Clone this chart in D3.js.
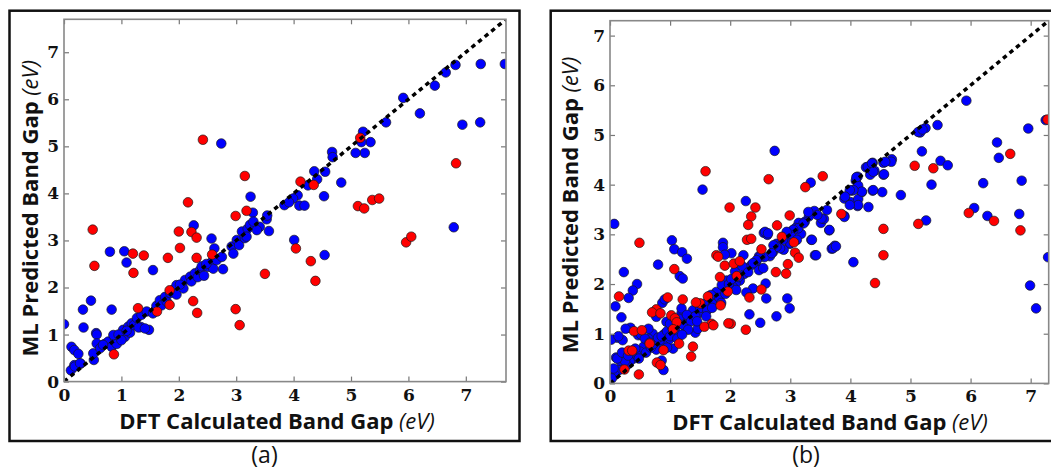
<!DOCTYPE html>
<html><head><meta charset="utf-8">
<script src="https://cdn.jsdelivr.net/npm/d3@7"></script>
<style>body{margin:0;background:#fff}</style>
</head><body>
<svg id="c" width="1051" height="469"></svg>
<script>
const tickValues = [0,1,2,3,4,5,6,7];
const xTitleMain = "DFT Calculated Band Gap ";
const yTitleMain = "ML Predicted Band Gap ";
const unitText = "(eV)";
const panelLabels = ["(a)", "(b)"];

const panelARed = [[2.42,5.14],[3.15,4.37],[2.16,3.81],[0.50,3.23],[0.53,2.46],[2.00,3.19],[2.02,2.84],[2.22,3.18],[2.31,3.06],[2.31,2.63],[1.81,2.63],[1.20,2.72],[1.39,2.68],[1.21,2.31],[2.99,3.52],[3.18,3.63],[2.58,2.70],[1.84,1.94],[1.84,1.63],[2.25,1.71],[2.32,1.46],[1.62,1.49],[1.29,1.56],[0.87,0.58],[2.99,1.54],[3.06,1.20],[3.50,2.29],[4.04,2.83],[4.12,4.25],[4.35,4.18],[4.30,2.56],[4.38,2.14],[5.16,5.18],[5.12,3.73],[5.23,3.68],[5.37,3.86],[5.49,3.89],[5.96,2.96],[6.05,3.08],[6.83,4.64]];

const panelABlue = [[0.0,1.22],[2.74,5.06],[0.80,2.76],[1.05,2.77],[1.09,2.53],[1.55,2.37],[2.26,3.32],[2.57,3.04],[2.62,2.83],[2.77,2.39],[3.25,3.93],[3.29,3.59],[0.47,1.72],[0.33,1.53],[0.83,1.53],[0.34,1.15],[0.56,1.03],[0.52,0.46],[0.13,0.74],[0.18,0.67],[0.25,0.59],[0.12,0.24],[0.18,0.35],[0.29,0.38],[1.34,1.16],[1.48,1.10],[3.57,3.20],[3.53,3.45],[3.54,3.53],[4.01,3.01],[4.54,2.69],[4.53,3.94],[4.83,4.23],[5.24,4.86],[5.34,5.09],[5.18,5.09],[5.21,5.31],[4.67,4.88],[4.68,4.77],[4.55,4.46],[4.36,4.47],[4.41,4.30],[4.25,4.17],[4.10,3.74],[4.19,3.74],[4.07,3.96],[3.99,3.89],[3.84,3.75],[3.92,3.81],[5.61,5.51],[5.91,6.03],[6.20,5.70],[6.46,6.29],[6.65,6.57],[6.82,6.73],[7.26,6.75],[7.68,6.75],[6.94,5.46],[7.25,5.51],[6.79,3.28],[5.08,4.86],
[0.19,0.32],[0.28,0.39],[0.51,0.60],[0.57,1.00],[0.57,0.81],[0.63,0.71],[0.71,0.80],[0.77,0.85],[0.83,0.74],[0.89,0.92],[0.92,0.80],[0.98,0.95],[1.03,1.10],[1.06,0.95],[1.12,1.17],[1.15,1.04],[1.18,1.24],[1.22,1.20],[1.27,1.35],[1.30,1.15],[1.35,1.42],[1.41,1.13],[1.44,1.49],[1.58,1.50],[1.61,1.61],[1.67,1.73],[1.70,1.62],[1.76,1.80],[1.79,1.70],[1.85,1.88],[1.90,1.95],[1.96,2.05],[1.96,1.85],[2.08,1.98],[2.11,2.16],[2.20,2.23],[2.22,2.13],[2.28,2.30],[2.33,2.22],[2.37,2.37],[2.40,2.45],[2.44,2.25],[2.51,2.44],[2.57,2.54],[2.60,2.40],[2.66,2.58],[2.75,2.65],[2.92,2.87],[2.95,2.72],[3.01,3.01],[3.05,2.90],[3.10,3.19],[3.15,3.05],[3.20,3.25],[3.24,3.33],[3.30,3.40],[3.41,3.29],[3.36,3.22],[0.86,0.99],[0.95,1.00],[1.00,0.88],[1.09,1.08],[0.68,0.78],[1.55,1.45],[2.02,2.06],[2.48,2.50],[3.18,3.08]];

const panelBRed = [[1.59,4.27],[2.64,4.11],[1.99,3.54],[2.42,3.54],[2.35,3.36],[2.30,3.19],[2.28,2.89],[2.35,2.91],[2.78,3.18],[2.99,3.38],[2.86,2.95],[3.06,2.84],[3.08,2.63],[3.14,2.53],[2.96,2.40],[2.93,2.21],[2.76,2.24],[2.52,2.70],[1.77,2.58],[1.91,2.37],[2.06,2.41],[2.16,2.46],[2.11,2.16],[1.83,2.14],[1.96,1.85],[2.52,1.89],[2.32,1.73],[1.84,1.57],[1.63,1.75],[1.50,1.61],[1.43,1.63],[1.69,1.20],[1.57,1.14],[2.01,1.20],[2.26,1.08],[1.21,1.69],[1.07,2.30],[0.96,1.73],[0.77,1.49],[0.70,1.43],[0.84,1.41],[1.02,1.37],[1.08,1.31],[1.11,1.23],[1.05,1.09],[1.15,0.80],[1.38,0.74],[1.35,0.54],[0.66,0.80],[0.89,0.67],[0.78,0.42],[0.84,0.37],[0.48,0.18],[0.24,0.28],[0.31,0.66],[0.37,0.66],[0.40,1.05],[0.53,1.07],[0.49,2.83],[0.15,1.75],[3.25,3.95],[3.54,4.17],[3.85,3.41],[4.55,3.11],[4.55,2.58],[4.41,2.02],[5.07,4.38],[5.38,4.33],[5.13,3.21],[5.97,3.43],[6.39,3.27],[6.66,4.62],[6.83,3.08],[7.28,5.31],[1.80,2.55],[1.97,1.21],[1.72,1.17]];

const panelBBlue = [[0.07,3.21],[2.74,4.68],[1.54,3.90],[2.26,3.67],[3.34,4.04],[2.56,3.03],[2.62,2.99],[1.88,2.83],[1.88,2.74],[2.02,2.62],[1.91,2.59],[1.03,2.88],[1.07,2.70],[1.20,2.64],[1.28,2.51],[1.16,2.16],[1.21,2.11],[0.80,2.39],[0.23,2.24],[0.45,2.00],[0.38,1.87],[0.31,1.72],[0.09,1.55],[0.19,1.33],[0.34,1.12],[0.87,1.62],[0.91,1.69],[0.12,0.92],[0.21,0.87],[0.02,0.88],[0.10,0.52],[0.18,0.44],[0.89,0.27],[0.86,0.46],[3.41,2.58],[3.35,2.89],[3.51,3.23],[3.65,3.08],[3.69,2.71],[3.74,2.77],[3.90,3.37],[4.05,2.44],[4.30,3.55],[4.37,3.88],[4.53,3.85],[4.55,4.20],[4.84,3.79],[5.26,3.28],[5.35,4.00],[5.19,4.67],[5.16,5.05],[5.25,5.14],[5.45,5.20],[5.50,4.48],[5.62,4.39],[5.93,5.69],[6.06,3.53],[6.21,4.03],[6.44,4.85],[6.47,4.54],[6.81,3.41],[6.85,4.08],[6.96,5.13],[6.99,1.97],[7.09,1.51],[7.29,2.54],[7.25,5.30],[2.77,1.35],[2.99,1.51],[2.95,1.71],[2.60,1.71],[2.32,1.39],[2.50,1.22],[2.59,2.01],[2.38,1.91],[2.27,1.83],[1.42,1.02],[1.46,1.10],[5.13,5.06],[5.20,5.11],[6.28,3.37],[2.22,2.58],[4.69,4.51],
[4.68,4.46],[4.55,4.44],[4.37,4.44],[4.40,4.28],[4.26,4.35],[4.33,4.20],[4.12,4.16],[4.09,4.08],[4.13,3.98],[4.19,3.85],[4.02,3.88],[4.00,3.65],[4.12,3.57],[4.13,3.71],[3.90,3.72],[3.56,3.31],[3.40,3.47],[3.31,3.36],[3.24,3.25],[3.14,3.23],[3.09,3.13],[3.04,3.08],[2.98,3.01],[2.99,2.81],[3.18,3.01],[2.89,2.69],[2.77,2.81],[2.71,2.64],[2.66,2.56],[2.57,2.54],[2.48,2.56],[2.43,2.44],[2.35,2.38],[2.48,2.28],[2.55,2.32],[2.27,2.31],[2.23,2.20],[2.16,2.07],[2.09,2.01],[2.04,1.95],[1.94,2.07],[1.88,1.93],[1.77,1.84],[1.72,1.74],[1.66,1.64],[1.59,1.55],[1.54,1.47],[1.47,1.41],[1.38,1.47],[1.32,1.33],[1.25,1.25],[1.19,1.41],[1.19,1.51],[1.26,1.10],[1.11,1.00],[1.05,0.70],[0.98,0.88],[0.91,1.00],[0.89,0.77],[0.83,0.87],[0.77,0.68],[0.71,1.00],[0.64,0.90],[0.56,0.74],[0.50,0.64],[0.44,0.58],[0.39,0.50],[0.33,0.44],[0.28,0.37],[0.22,0.50],[0.15,0.27],[0.08,0.17],[0.03,0.10],[0.77,1.34],[0.94,1.24],[0.64,1.10],[0.47,0.97],
[4.29,4.36],[4.36,4.43],[4.38,4.26],[4.58,4.46],[4.56,4.21],[4.38,3.89],[4.19,3.86],[4.13,3.59],[3.99,3.59],[4.05,3.89],[4.10,4.15],[3.99,3.89],[3.91,3.76],[3.90,3.35],[3.61,3.49],[3.65,3.09],[3.52,3.32],[3.45,3.39],[3.30,3.45],[3.36,2.89],[3.43,2.58],[3.71,2.72],[3.76,2.76],[3.22,3.22],[3.13,3.12],[3.05,3.09],[3.02,2.95],[3.00,2.82],[3.11,2.89],[2.94,3.05],[2.88,2.89],[2.83,2.72],[2.77,2.75],[2.72,2.78],[2.69,2.62],[2.58,3.05],[2.63,3.02],[2.50,2.55],[2.44,2.48],[2.38,2.42],
[0.60,0.62],[0.68,0.72],[0.73,0.80],[0.80,0.92],[0.86,0.95],[0.95,1.05],[1.00,0.95],[1.04,1.12],[1.10,1.15],[1.15,1.30],[1.22,1.18],[1.28,1.38],[1.35,1.25],[1.42,1.35],[1.50,1.52],[1.56,1.60],[1.62,1.48],[1.68,1.78],[1.75,1.60],[1.82,1.72],[1.86,1.98],[1.92,1.80],[1.98,2.00],[2.02,2.10],[2.08,2.25],[2.14,2.14],[2.20,2.36],[2.30,2.24],[0.52,0.98],[0.42,0.70],[0.25,0.45],[0.36,0.62],[0.58,0.90],[0.66,0.82],[1.00,1.20],[1.12,0.90],[0.95,0.72],[1.30,1.08],[1.45,1.25],[1.60,1.35],[0.12,0.50],[0.06,0.30],[0.20,0.62],[0.30,0.56],[0.48,0.50],[1.20,0.98],[1.70,1.52],[1.85,1.62],[2.10,1.88],[0.14,0.95],[0.26,1.10]];

const panels = [
  {red: panelARed, blue: panelABlue, max: 7.7, box: [9.5, 10.7, 510, 430.3], plot: [64, 506, 19.3, 381.6], xTitle: [277, 428.6], yTitle: [38, 208.3], label: [264.5, 462.5], text: panelLabels[0]},
  {red: panelBRed, blue: panelBBlue, max: 7.3, box: [550.7, 10.7, 520, 430.3], plot: [610, 1048.7, 20.7, 383.4], xTitle: [830, 430.4], yTitle: [578.3, 205], label: [806, 462.5], text: panelLabels[1]}
];

const svg = d3.select("#c");
const sans = "'Open Sans', 'DejaVu Sans', sans-serif";
const serif = "'DejaVu Serif', serif";
const titleSize = 22;

panels.forEach((p, i) => {
  const [px0, px1, py0, py1] = p.plot;
  const x = d3.scaleLinear().domain([0, p.max]).range([px0, px1]);
  const y = d3.scaleLinear().domain([0, p.max]).range([py1, py0]);
  const g = svg.append("g");

  g.append("rect").attr("x", p.box[0]).attr("y", p.box[1]).attr("width", p.box[2]).attr("height", p.box[3])
    .attr("fill", "none").attr("stroke", "#111").attr("stroke-width", 2.5);

  const clipId = "clip" + i;
  svg.append("clipPath").attr("id", clipId).append("rect")
    .attr("x", px0).attr("y", py0).attr("width", px1 - px0).attr("height", py1 - py0);

  const pts = g.append("g").attr("clip-path", `url(#${clipId})`);
  pts.selectAll("circle.b").data(p.blue).join("circle").attr("class", "b")
    .attr("cx", d => x(d[0])).attr("cy", d => y(d[1])).attr("r", 4.8)
    .attr("fill", "#0000ff").attr("stroke", "#1a1a1a").attr("stroke-width", 0.7);
  pts.selectAll("circle.r").data(p.red).join("circle").attr("class", "r")
    .attr("cx", d => x(d[0])).attr("cy", d => y(d[1])).attr("r", 4.8)
    .attr("fill", "#ff0000").attr("stroke", "#1a1a1a").attr("stroke-width", 0.7);

  pts.append("line").attr("x1", x(0)).attr("y1", y(0)).attr("x2", x(p.max)).attr("y2", y(p.max))
    .attr("stroke", "#000").attr("stroke-width", 3.5).attr("stroke-dasharray", "4.5,4");

  const tk = tickValues.filter(v => v <= p.max);
  const tickLen = 5;
  const axG = g.append("g");
  const bottom = axG.append("g").attr("transform", `translate(0,${py1})`)
    .call(d3.axisBottom(x).tickValues(tk).tickSize(-tickLen).tickPadding(7).tickFormat(d3.format("d")));
  const top = axG.append("g").attr("transform", `translate(0,${py0})`)
    .call(d3.axisTop(x).tickValues(tk).tickSize(-tickLen).tickFormat(""));
  const left = axG.append("g").attr("transform", `translate(${px0},0)`)
    .call(d3.axisLeft(y).tickValues(tk).tickSize(-tickLen).tickPadding(5).tickFormat(d3.format("d")));
  const right = axG.append("g").attr("transform", `translate(${px1},0)`)
    .call(d3.axisRight(y).tickValues(tk).tickSize(-tickLen).tickFormat(""));
  [bottom, top, left, right].forEach(a => {
    a.select(".domain").remove();
    a.selectAll(".tick line").attr("stroke", "#777").attr("stroke-width", 1.2);
    a.selectAll(".tick text").attr("font-family", serif).attr("font-weight", "bold")
      .attr("font-size", 17).attr("fill", "#111");
  });
  left.selectAll(".tick text").attr("x", -5);
  axG.append("rect").attr("x", px0).attr("y", py0).attr("width", px1 - px0).attr("height", py1 - py0)
    .attr("fill", "none").attr("stroke", "#888").attr("stroke-width", 1.6);

  const xt = g.append("text").attr("x", p.xTitle[0]).attr("y", p.xTitle[1]).attr("text-anchor", "middle")
    .attr("font-family", sans).attr("font-size", titleSize).attr("fill", "#111");
  xt.append("tspan").attr("font-weight", "bold").text(xTitleMain);
  xt.append("tspan").attr("font-style", "italic").text(unitText);

  const yt = g.append("text").attr("transform", `translate(${p.yTitle[0]},${p.yTitle[1]}) rotate(-90)`)
    .attr("text-anchor", "middle").attr("font-family", sans).attr("font-size", titleSize).attr("fill", "#111");
  yt.append("tspan").attr("font-weight", "bold").text(yTitleMain);
  yt.append("tspan").attr("font-style", "italic").text(unitText);

  g.append("text").attr("x", p.label[0]).attr("y", p.label[1]).attr("text-anchor", "middle")
    .attr("font-family", sans).attr("font-size", 23).attr("fill", "#111").text(p.text);
});
</script>
</body></html>
